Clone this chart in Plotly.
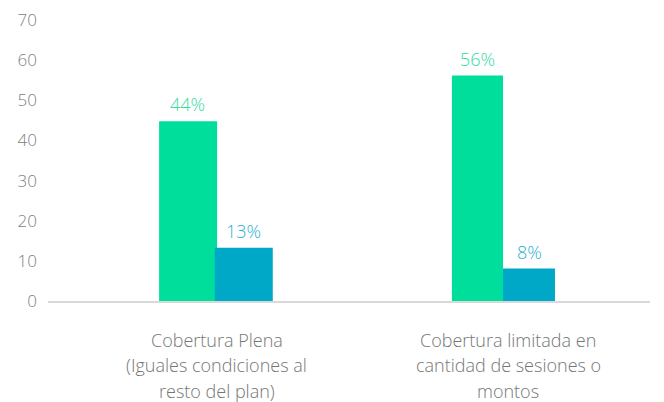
import plotly.graph_objects as go

categories = ["Cobertura Plena", "Cobertura limitada"]
category_lines = [
    ["Cobertura Plena", "(Iguales condiciones al", "resto del plan)"],
    ["Cobertura limitada en", "cantidad de sesiones o", "montos"],
]
serie_a = [44.8, 56.2]
serie_b = [13.3, 8.1]
labels_a = ["44%", "56%"]
labels_b = ["13%", "8%"]
y_ticks = [0, 10, 20, 30, 40, 50, 60, 70]

GREEN = "#00DE9B"
BLUE = "#00A8C7"
FONT = "Open Sans"

fig = go.Figure()
fig.add_trace(go.Bar(
    x=categories, y=serie_a,
    marker=dict(color=GREEN, line=dict(width=0)),
    width=[0.202, 0.178], offset=[-0.198, -0.178],
    showlegend=False, hoverinfo="skip",
))
fig.add_trace(go.Bar(
    x=categories, y=serie_b,
    marker=dict(color=BLUE, line=dict(width=0)),
    width=[0.202, 0.181], offset=[-0.004, 0.0],
    showlegend=False, hoverinfo="skip",
))

annotations = []
label_shift_a = [-28, -26]
label_shift_b = [28, 26]
for i, cat in enumerate(categories):
    annotations.append(dict(
        x=cat, y=serie_a[i], xref="x", yref="y", text=labels_a[i],
        showarrow=False, yanchor="bottom", xanchor="center",
        xshift=label_shift_a[i], yshift=3,
        font=dict(family=FONT, size=18, color="#35DBA0", weight=300),
    ))
    annotations.append(dict(
        x=cat, y=serie_b[i], xref="x", yref="y", text=labels_b[i],
        showarrow=False, yanchor="bottom", xanchor="center",
        xshift=label_shift_b[i], yshift=3,
        font=dict(family=FONT, size=18, color="#2AAFCF", weight=300),
    ))
for i, cat in enumerate(categories):
    for j, line in enumerate(category_lines[i]):
        annotations.append(dict(
            x=cat, y=0, xref="x", yref="y", text=line,
            showarrow=False, yanchor="middle", xanchor="center",
            xshift=1 if i == 0 else 5, yshift=-(38.5 + 25.5 * j),
            font=dict(family=FONT, size=18, color="#767676", weight=300),
        ))

fig.update_layout(
    width=656, height=394,
    margin=dict(l=40, r=14, t=12, b=101),
    paper_bgcolor="white", plot_bgcolor="white",
    barmode="overlay",
    font=dict(family=FONT, color="#7F7F7F", size=17, weight=300),
    annotations=annotations,
    xaxis=dict(
        type="category", range=[-0.585, 1.512], automargin=False,
        showline=True, linecolor="#D9D9D9", linewidth=2,
        showgrid=False, ticks="", showticklabels=False,
    ),
    yaxis=dict(
        range=[0, 70.05], tickvals=y_ticks, showgrid=False, zeroline=False,
        showline=False, ticks="", ticklabelstandoff=10, automargin=False,
        tickfont=dict(family=FONT, size=17, color="#808080", weight=300),
    ),
)

fig.write_html("out.html")
